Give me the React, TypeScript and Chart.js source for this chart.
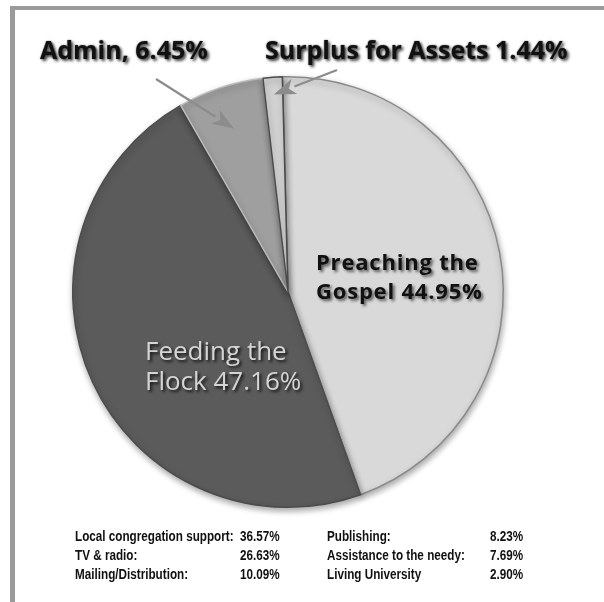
import React, { useEffect, useRef } from "react";
import { Chart, registerables } from "chart.js";

Chart.register(...registerables);

const sliceLabels = ["Preaching the Gospel", "Feeding the Flock", "Admin", "Surplus for Assets"];
const sliceValues = [44.95, 47.16, 6.45, 1.44];
const sliceColors = ["#d9d9d9", "#5b5b5b", "#9f9f9f", "#d2d2d2"];
const sliceBorders = ["#8a8a8a", "#4c4c4c", "#bcbcbc", "#4a4a4a"];

const breakdownLeftLabels = ["Local congregation support:", "TV & radio:", "Mailing/Distribution:"];
const breakdownLeftValues = [36.57, 26.63, 10.09];
const breakdownRightLabels = ["Publishing:", "Assistance to the needy:", "Living University"];
const breakdownRightValues = [8.23, 7.69, 2.9];

const pct = (v: number) => v.toFixed(2) + "%";

const arrowPlugin = {
  id: "arrows",
  beforeDatasetsDraw(chart: any) {
    const ctx = chart.ctx;
    ctx.save();
    ctx.shadowColor = "rgba(0,0,0,0.35)";
    ctx.shadowBlur = 6;
    ctx.shadowOffsetX = 1;
    ctx.shadowOffsetY = 3;
  },
  afterDatasetsDraw(chart: any) {
    const ctx = chart.ctx;
    ctx.restore();
    const meta = chart.getDatasetMeta(0);
    const drawArrow = (idx: number, frac: number, tx: number, ty: number) => {
      const arc = meta.data[idx];
      const { x, y, startAngle, endAngle, outerRadius } = arc.getProps(
        ["x", "y", "startAngle", "endAngle", "outerRadius"],
        true
      );
      const mid = (startAngle + endAngle) / 2;
      const hx = x + Math.cos(mid) * outerRadius * frac;
      const hy = y + Math.sin(mid) * outerRadius * frac;
      const ang = Math.atan2(hy - ty, hx - tx);
      const headLen = 22;
      const headW = 8;
      const bx = hx - Math.cos(ang) * headLen;
      const by = hy - Math.sin(ang) * headLen;
      ctx.save();
      ctx.strokeStyle = "#8c8c8c";
      ctx.fillStyle = "#8c8c8c";
      ctx.lineWidth = 2.2;
      ctx.beginPath();
      ctx.moveTo(tx, ty);
      ctx.lineTo(bx, by);
      ctx.stroke();
      ctx.beginPath();
      ctx.moveTo(hx, hy);
      ctx.lineTo(bx + Math.cos(ang + Math.PI / 2) * headW, by + Math.sin(ang + Math.PI / 2) * headW);
      ctx.lineTo(bx + Math.cos(ang) * 6, by + Math.sin(ang) * 6);
      ctx.lineTo(bx + Math.cos(ang - Math.PI / 2) * headW, by + Math.sin(ang - Math.PI / 2) * headW);
      ctx.closePath();
      ctx.fill();
      ctx.restore();
    };
    drawArrow(2, 0.8, 156, 79);
    drawArrow(3, 0.92, 337, 70);
  },
};

export default function App() {
  const canvasRef = useRef<HTMLCanvasElement | null>(null);

  useEffect(() => {
    if (!canvasRef.current) return;
    const chart = new Chart(canvasRef.current, {
      type: "pie",
      data: {
        labels: sliceLabels,
        datasets: [
          {
            data: sliceValues,
            backgroundColor: sliceColors,
            borderColor: sliceBorders,
            borderWidth: 1.5,
          },
        ],
      },
      options: {
        responsive: false,
        animation: false,
        devicePixelRatio: 1,
        rotation: -1.5,
        layout: { padding: { left: 72, right: 100, top: 76, bottom: 94 } },
        plugins: {
          legend: { display: false },
          tooltip: { enabled: false },
        },
      },
      plugins: [arrowPlugin],
    });
    return () => chart.destroy();
  }, []);

  const headStyle: React.CSSProperties = {
    position: "absolute",
    fontFamily: "'Open Sans', sans-serif",
    fontWeight: 700,
    fontSize: 25,
    lineHeight: "25px",
    color: "#111",
    whiteSpace: "nowrap",
    textShadow: "2px 2px 3px rgba(0,0,0,0.75), 0 0 2px rgba(0,0,0,0.5)",
  };

  const tableFont: React.CSSProperties = {
    position: "absolute",
    fontFamily: "'Liberation Sans', Arial, sans-serif",
    fontWeight: 700,
    fontSize: 15,
    lineHeight: "19px",
    color: "#111",
    whiteSpace: "nowrap",
    transform: "scaleX(0.78)",
    transformOrigin: "left center",
  };

  return (
    <div style={{ position: "absolute", left: 0, top: 0, width: 604, height: 602, background: "#fff", overflow: "hidden" }}>
      <div style={{ position: "absolute", left: 10, top: 6, width: 594, height: 4, background: "#9a9a9a" }} />
      <div style={{ position: "absolute", left: 10, top: 6, width: 5, height: 596, background: "#9a9a9a" }} />
      <canvas ref={canvasRef} width={604} height={602} style={{ position: "absolute", left: 0, top: 0 }} />

      <div style={{ ...headStyle, left: 40, top: 37 }}>{sliceLabels[2]}, {pct(sliceValues[2])}</div>
      <div style={{ ...headStyle, left: 265, top: 37 }}>{sliceLabels[3]} {pct(sliceValues[3])}</div>

      <div
        style={{
          ...headStyle,
          fontSize: 22,
          lineHeight: "29px",
          letterSpacing: "0.8px",
          left: 316,
          top: 247,
          textShadow: "2px 2px 3px rgba(0,0,0,0.6)",
        }}
      >
        Preaching the
        <br />
        Gospel {pct(sliceValues[0])}
      </div>

      <div
        style={{
          ...headStyle,
          fontWeight: 400,
          fontSize: 26,
          lineHeight: "30px",
          color: "#d4d4d4",
          left: 145,
          top: 335,
          textShadow: "2px 2px 3px rgba(0,0,0,0.8)",
        }}
      >
        Feeding the
        <br />
        Flock {pct(sliceValues[1])}
      </div>

      {breakdownLeftLabels.map((l, i) => (
        <React.Fragment key={"l" + i}>
          <div style={{ ...tableFont, left: 75, top: 526 + i * 19 }}>{l}</div>
          <div style={{ ...tableFont, left: 240, top: 526 + i * 19 }}>{pct(breakdownLeftValues[i])}</div>
        </React.Fragment>
      ))}
      {breakdownRightLabels.map((l, i) => (
        <React.Fragment key={"r" + i}>
          <div style={{ ...tableFont, left: 327, top: 526 + i * 19 }}>{l}</div>
          <div style={{ ...tableFont, left: 490, top: 526 + i * 19 }}>{pct(breakdownRightValues[i])}</div>
        </React.Fragment>
      ))}
    </div>
  );
}
